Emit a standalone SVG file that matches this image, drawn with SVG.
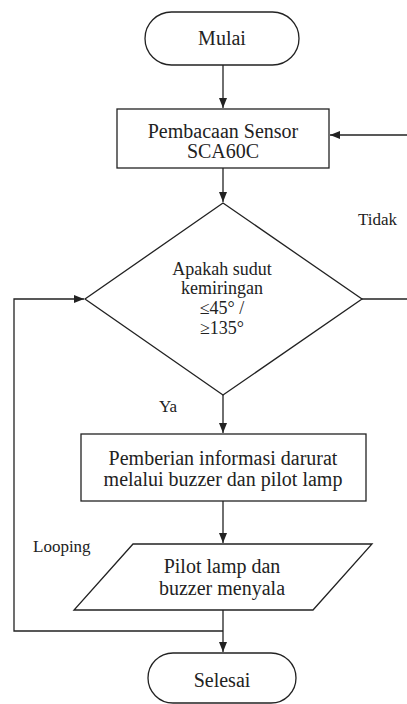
<svg xmlns="http://www.w3.org/2000/svg" width="407" height="704" viewBox="0 0 407 704">
<style>
.s{fill:#fff;stroke:#222;stroke-width:1.3}
.c{fill:none;stroke:#222;stroke-width:1.3}
text{fill:#222}
.m{font-size:20px;text-anchor:middle}
.d{font-size:18px;text-anchor:middle}
.l{font-size:17px}
</style>
<defs>
<marker id="ar" viewBox="0 0 10 10" refX="10" refY="5" markerWidth="10" markerHeight="10" markerUnits="userSpaceOnUse" orient="auto">
<path d="M0,1 L10,5 L0,9 z" fill="#222"/>
</marker>
</defs>
<rect width="407" height="704" fill="#fff"/>
<g font-family="'Liberation Serif', 'Times New Roman', Times, 'DejaVu Serif', serif">
<g id="connectors">
<line class="c" x1="223" y1="65" x2="223" y2="108" marker-end="url(#ar)"/>
<line class="c" x1="223" y1="168" x2="223" y2="202" marker-end="url(#ar)"/>
<line class="c" x1="362" y1="299" x2="407" y2="299"/>
<line class="c" x1="407" y1="135" x2="330" y2="135" marker-end="url(#ar)"/>
<line class="c" x1="223" y1="395" x2="223" y2="433" marker-end="url(#ar)"/>
<line class="c" x1="223" y1="501" x2="223" y2="543" marker-end="url(#ar)"/>
<line class="c" x1="223" y1="610" x2="223" y2="652" marker-end="url(#ar)"/>
<polyline class="c" points="223,631 14,631 14,299 84,299" marker-end="url(#ar)"/>
<text class="l" x="358" y="225">Tidak</text>
<text class="l" x="159" y="412">Ya</text>
<text class="l" x="33" y="552">Looping</text>
</g>
<g id="mulai">
<rect class="s" x="145" y="12" width="154" height="53" rx="26.5"/>
<text class="m" x="222" y="45">Mulai</text>
</g>
<g id="baca">
<rect class="s" x="117" y="109" width="212" height="59"/>
<text class="m" x="223" y="138">Pembacaan Sensor</text>
<text class="m" x="223" y="158">SCA60C</text>
</g>
<g id="cek">
<polygon class="s" points="223,203 362,299 223,395 85,299"/>
<text class="d" x="222" y="275">Apakah sudut</text>
<text class="d" x="222" y="294">kemiringan</text>
<text class="d" x="222" y="314">≤45° /</text>
<text class="d" x="222" y="334">≥135°</text>
</g>
<g id="info">
<rect class="s" x="81" y="434" width="285" height="67"/>
<text class="m" x="223" y="465">Pemberian informasi darurat</text>
<text class="m" x="223" y="486">melalui buzzer dan pilot lamp</text>
</g>
<g id="nyala">
<polygon class="s" points="133,544 372,544 313,610 74,610"/>
<text class="m" x="222" y="573">Pilot lamp dan</text>
<text class="m" x="222" y="595">buzzer menyala</text>
</g>
<g id="selesai">
<rect class="s" x="148" y="653" width="148" height="50" rx="25"/>
<text class="m" x="222" y="687">Selesai</text>
</g>
</g>
</svg>
